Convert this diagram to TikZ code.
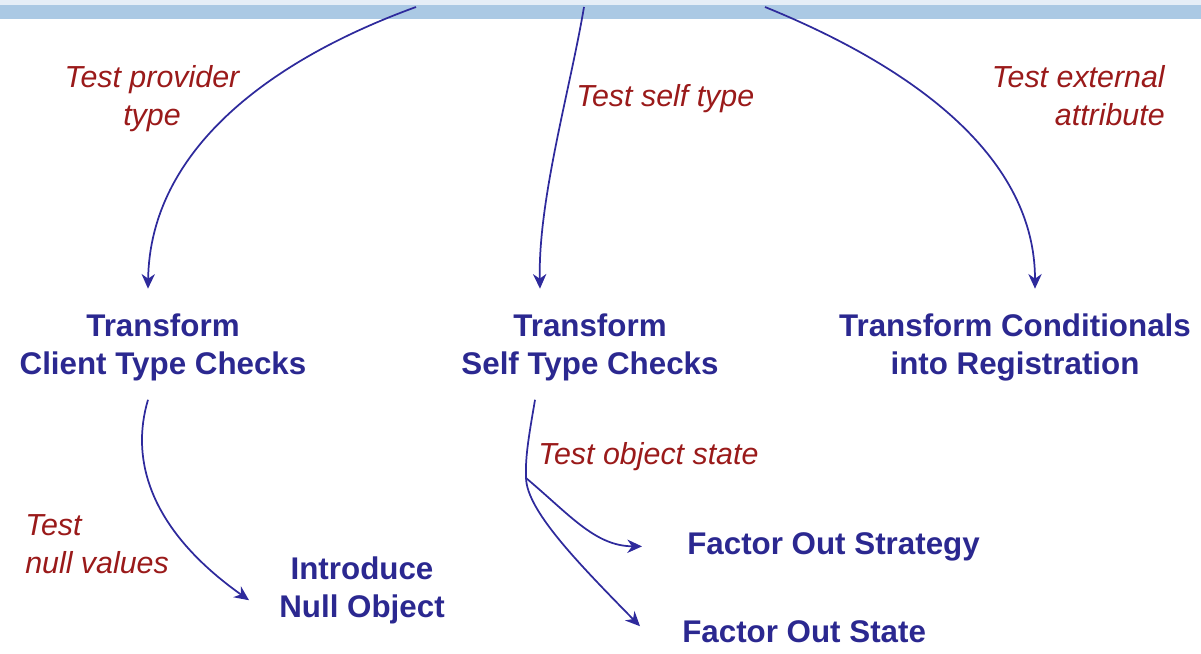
\documentclass[tikz,border=0pt]{standalone}
\usepackage{fontspec}
\setmainfont{Liberation Sans}
\usepackage{xcolor}
\usepackage{tikz}
\usetikzlibrary{
  arrows.meta,
  positioning, calc
}
\definecolor{navytext}  {HTML}{2B2890}
\definecolor{arrowcol}  {HTML}{2E2A9C}
\definecolor{testred}   {HTML}{9A1A1A}
\definecolor{bandlight} {HTML}{E6EEF7}
\definecolor{bandblue}  {HTML}{ABC9E4}
\tikzset{
  refbox/.style={
    inner sep=0pt, align=center,
    font=\fontsize{23.5}{28}\selectfont\bfseries, text=navytext
  },
  testlabel/.style={
    inner sep=0pt,
    font=\fontsize{22.8}{28}\selectfont\itshape, text=testred
  },
  myarrow/.style={-{Stealth[length=11pt, width=10pt, inset=3.5pt]},
    line width=1.3pt, color=arrowcol}
}

\begin{document}
\begin{tikzpicture}[x=0.75pt, y=-0.75pt]

  \useasboundingbox (0,0) rectangle (1201,653);

  % top band
  \fill[bandlight] (0,0) rectangle (1201,5);
  \fill[bandblue] (0,5) rectangle (1201,19);
  \coordinate (b1) at (416,7);
  \coordinate (b2) at (584,7);
  \coordinate (b3) at (765,7);

  % refactorings (base = last line)
  \node[refbox, anchor=base] (client) at (163,374)
    {Transform\\Client Type Checks};
  \node[refbox, anchor=base] (self) at (590,374)
    {Transform\\Self Type Checks};
  \node[refbox, anchor=base] (reg) at (1015,374)
    {Transform Conditionals\\into Registration};
  \node[refbox, anchor=base] (nullobj) at (362,617)
    {Introduce\\Null Object};
  \node[refbox, anchor=base west] (strategy) at (687,554)
    {Factor Out Strategy};
  \node[refbox, anchor=base west] (state) at (682,642)
    {Factor Out State};

  % tests
  \node[testlabel, align=center, anchor=base] (tprov) at (152,125)
    {Test provider\\type};
  \node[testlabel, anchor=base west] (tself) at (576,106)
    {Test self type};
  \node[testlabel, align=right, anchor=base east] (text) at (1165,125)
    {Test external\\attribute};
  \node[testlabel, anchor=base west] (tobj) at (538,464)
    {Test object state};
  \node[testlabel, align=left, anchor=base west] (tnull) at (25,573)
    {Test\\null values};

  \coordinate (fork) at (526,478);

  \draw[myarrow] (b1) .. controls (270,60) and (150,150)
    .. ($(client.north)+(-15,-25)$);
  \draw[myarrow] (b2) .. controls (570,90) and (538,200)
    .. ($(self.north)+(-50,-25)$);
  \draw[myarrow] (b3) .. controls (920,70) and (1035,160)
    .. ($(reg.north)+(20,-25)$);
  \draw[myarrow] ($(client.south)+(-15,19)$) .. controls (130,460) and (150,530)
    .. ($(nullobj.west)+(-30,10)$);
  \draw[myarrow] ($(self.south)+(-55,19)$) .. controls (530,430) and (525,455)
    .. (fork) .. controls (527,510) and (575,560)
    .. ($(state.west)+(-42,-5)$);
  \draw[myarrow] (fork) .. controls (570,515) and (595,546)
    .. ($(strategy.west)+(-45,0)$);

\end{tikzpicture}
\end{document}
